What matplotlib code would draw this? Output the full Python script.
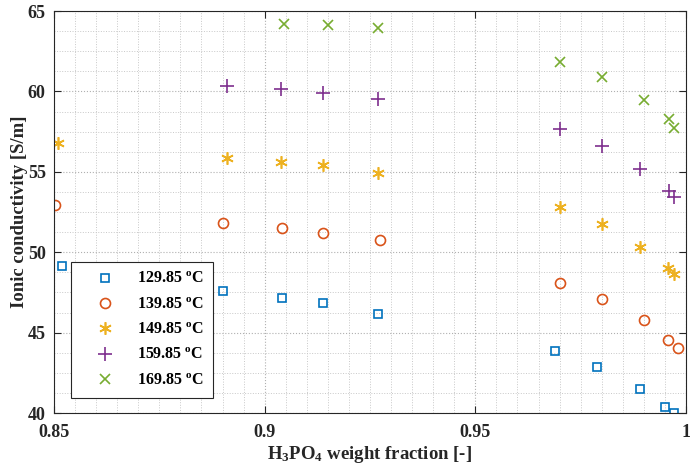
import matplotlib
matplotlib.use("Agg")
import matplotlib.pyplot as plt
from matplotlib.ticker import MultipleLocator, FixedLocator

plt.rcParams['font.family'] = ['Liberation Serif', 'DejaVu Serif']
plt.rcParams['mathtext.fontset'] = 'custom'
plt.rcParams['mathtext.rm'] = 'Liberation Serif:bold'
plt.rcParams['mathtext.it'] = 'Liberation Serif:bold'
plt.rcParams['mathtext.bf'] = 'Liberation Serif:bold'

labels = ["129.85 $^{\\mathrm{o}}$C", "139.85 $^{\\mathrm{o}}$C", "149.85 $^{\\mathrm{o}}$C",
          "159.85 $^{\\mathrm{o}}$C", "169.85 $^{\\mathrm{o}}$C"]

x_129 = [0.852, 0.890, 0.904, 0.9139, 0.927, 0.9689, 0.9789, 0.989, 0.995, 0.9971]
y_129 = [49.14, 47.60, 47.13, 46.82, 46.18, 43.86, 42.84, 41.47, 40.39, 39.98]

x_139 = [0.8502, 0.8900, 0.9040, 0.9139, 0.9273, 0.970, 0.980, 0.990, 0.9958, 0.998]
y_139 = [52.94, 51.83, 51.50, 51.19, 50.78, 48.10, 47.07, 45.80, 44.54, 44.06]

x_149 = [0.851, 0.8911, 0.9039, 0.9139, 0.927, 0.970, 0.980, 0.989, 0.9958, 0.9971]
y_149 = [56.81, 55.86, 55.63, 55.40, 54.94, 52.79, 51.75, 50.34, 49.04, 48.64]

x_159 = [0.8911, 0.9039, 0.9139, 0.927, 0.970, 0.980, 0.989, 0.996, 0.9972]
y_159 = [60.34, 60.17, 59.92, 59.53, 57.64, 56.60, 55.16, 53.83, 53.45]

x_169 = [0.9046, 0.915, 0.927, 0.970, 0.980, 0.990, 0.996, 0.9972]
y_169 = [64.19, 64.13, 63.92, 61.84, 60.88, 59.47, 58.26, 57.70]

colors = ['#0072BD', '#D95319', '#EDB120', '#7E2F8E', '#77AC30']

fig = plt.figure(figsize=(6.9, 4.75), dpi=100)
ax = fig.add_axes([0.0783, 0.1305, 0.9159, 0.8463])

ax.plot(x_129, y_129, linestyle='none', marker='s', ms=6, mfc='none', mec=colors[0], mew=1.2, label=labels[0])
ax.plot(x_139, y_139, linestyle='none', marker='o', ms=7.2, mfc='none', mec=colors[1], mew=1.2, label=labels[1])
ax.plot(x_149, y_149, linestyle='none', marker=(6, 2, 0), ms=9, mfc='none', mec=colors[2], mew=1.2, label=labels[2])
ax.plot(x_159, y_159, linestyle='none', marker='+', ms=9.5, mec=colors[3], mew=1.2, label=labels[3])
ax.plot(x_169, y_169, linestyle='none', marker='x', ms=7.5, mec=colors[4], mew=1.2, label=labels[4])

ax.set_xlim(0.85, 1.0)
ax.set_ylim(40, 65)
ax.xaxis.set_major_locator(FixedLocator([0.85, 0.9, 0.95, 1.0]))
ax.set_xticklabels(['0.85', '0.9', '0.95', '1'])
ax.yaxis.set_major_locator(MultipleLocator(5))
ax.xaxis.set_minor_locator(MultipleLocator(0.005))
ax.yaxis.set_minor_locator(MultipleLocator(1.25))

ax.grid(which='major', linestyle=':', color='#b0b0b0', linewidth=0.8)
ax.grid(which='minor', linestyle=':', color='#c8c8c8', linewidth=0.7)
ax.set_axisbelow(True)

ax.tick_params(which='major', direction='in', length=5, width=0.8, top=True, right=True,
               colors='#262626', labelsize=13)
ax.tick_params(axis='x', which='major', pad=8)
ax.tick_params(axis='y', which='major', pad=6)
ax.tick_params(which='minor', length=0, top=True, right=True)
for lab in ax.get_xticklabels() + ax.get_yticklabels():
    lab.set_fontweight('bold')
for s in ax.spines.values():
    s.set_color('#262626')
    s.set_linewidth(0.8)

ax.set_xlabel('H$_3$PO$_4$ weight fraction [-]', fontsize=13.5, fontweight='bold', color='#262626', labelpad=2)
ax.set_ylabel('Ionic conductivity [S/m]', fontsize=13.5, fontweight='bold', color='#262626', labelpad=0)

leg = ax.legend(loc='lower left', bbox_to_anchor=(0.027, 0.037), prop={'weight': 'bold', 'size': 11.5},
                frameon=True, fancybox=False, edgecolor='#262626', framealpha=1,
                handletextpad=0.55, borderpad=0.6, labelspacing=0.58, handlelength=3.0,
                borderaxespad=0)
leg.get_frame().set_linewidth(0.8)

fig.savefig('out.png', dpi=100, facecolor='white')
